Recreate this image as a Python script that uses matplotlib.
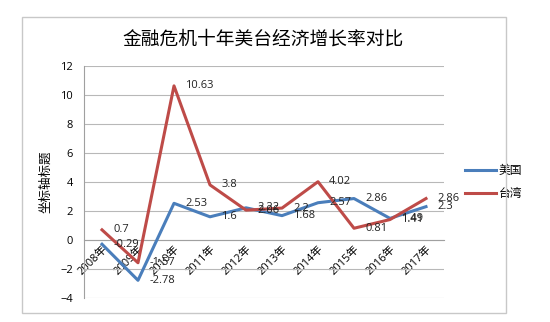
import matplotlib
matplotlib.use("Agg")
import matplotlib.pyplot as plt
from matplotlib.patches import Rectangle

plt.rcParams['font.family'] = ['Open Sans', 'Noto Sans CJK SC', 'DejaVu Sans']

# data
years = ['2008年', '2009年', '2010年', '2011年', '2012年',
         '2013年', '2014年', '2015年', '2016年', '2017年']
usa = [-0.29, -2.78, 2.53, 1.6, 2.22, 1.68, 2.57, 2.86, 1.49, 2.3]
taiwan = [0.7, -1.57, 10.63, 3.8, 2.06, 2.2, 4.02, 0.81, 1.41, 2.86]
usa_color = '#4A7EBB'
tw_color = '#BE4B48'

fig = plt.figure(figsize=(5.5, 3.22), dpi=100)
fig.patches.append(Rectangle((22 / 550, 1 - 313 / 322), 484 / 550, 296 / 322,
                             transform=fig.transFigure, fill=False,
                             edgecolor='#c8c8c8', lw=1))
ax = fig.add_axes([84 / 550, 1 - 298 / 322, 360 / 550, 232 / 322])

x = list(range(len(years)))
ax.plot(x, usa, color=usa_color, lw=2.2, label='美国', zorder=3)
ax.plot(x, taiwan, color=tw_color, lw=2.2, label='台湾', zorder=3)

# data labels on the right of each point
for xi, v in zip(x, usa):
    ax.annotate(f'{v:g}', (xi, v), xytext=(8, 0), textcoords='offset points',
                ha='left', va='center', fontsize=8, color='#222222', zorder=4)
for xi, v in zip(x, taiwan):
    ax.annotate(f'{v:g}', (xi, v), xytext=(8, 0), textcoords='offset points',
                ha='left', va='center', fontsize=8, color='#222222', zorder=4)

ax.set_xlim(-0.5, len(years) - 0.5)
ax.set_ylim(-4, 12)
ax.set_yticks(range(-4, 13, 2))
ax.grid(axis='y', color='#b8b8b8', lw=0.8)
ax.set_axisbelow(True)

for s in ['top', 'right']:
    ax.spines[s].set_visible(False)
ax.spines['left'].set_color('#a0a0a0')
ax.spines['bottom'].set_position(('data', 0))
ax.spines['bottom'].set_color('#a0a0a0')

ax.set_xticks(x)
ax.set_xticklabels(years, rotation=45, ha='right', va='top',
                   rotation_mode='anchor', fontsize=8)
ax.tick_params(axis='x', length=0, pad=3)
ax.tick_params(axis='y', length=0, pad=8, labelsize=8)

ax.set_ylabel('坐标轴标题', fontsize=9, labelpad=6)
fig.text(263 / 550, 1 - 40 / 322, '金融危机十年美台经济增长率对比',
         ha='center', va='center', fontsize=13.5)

ax.legend(loc='center left', bbox_to_anchor=(1.03, 0.5), frameon=False,
          fontsize=8.5, handlelength=2.6, handletextpad=0.2, labelspacing=0.9)

fig.savefig('out.png', dpi=100)
